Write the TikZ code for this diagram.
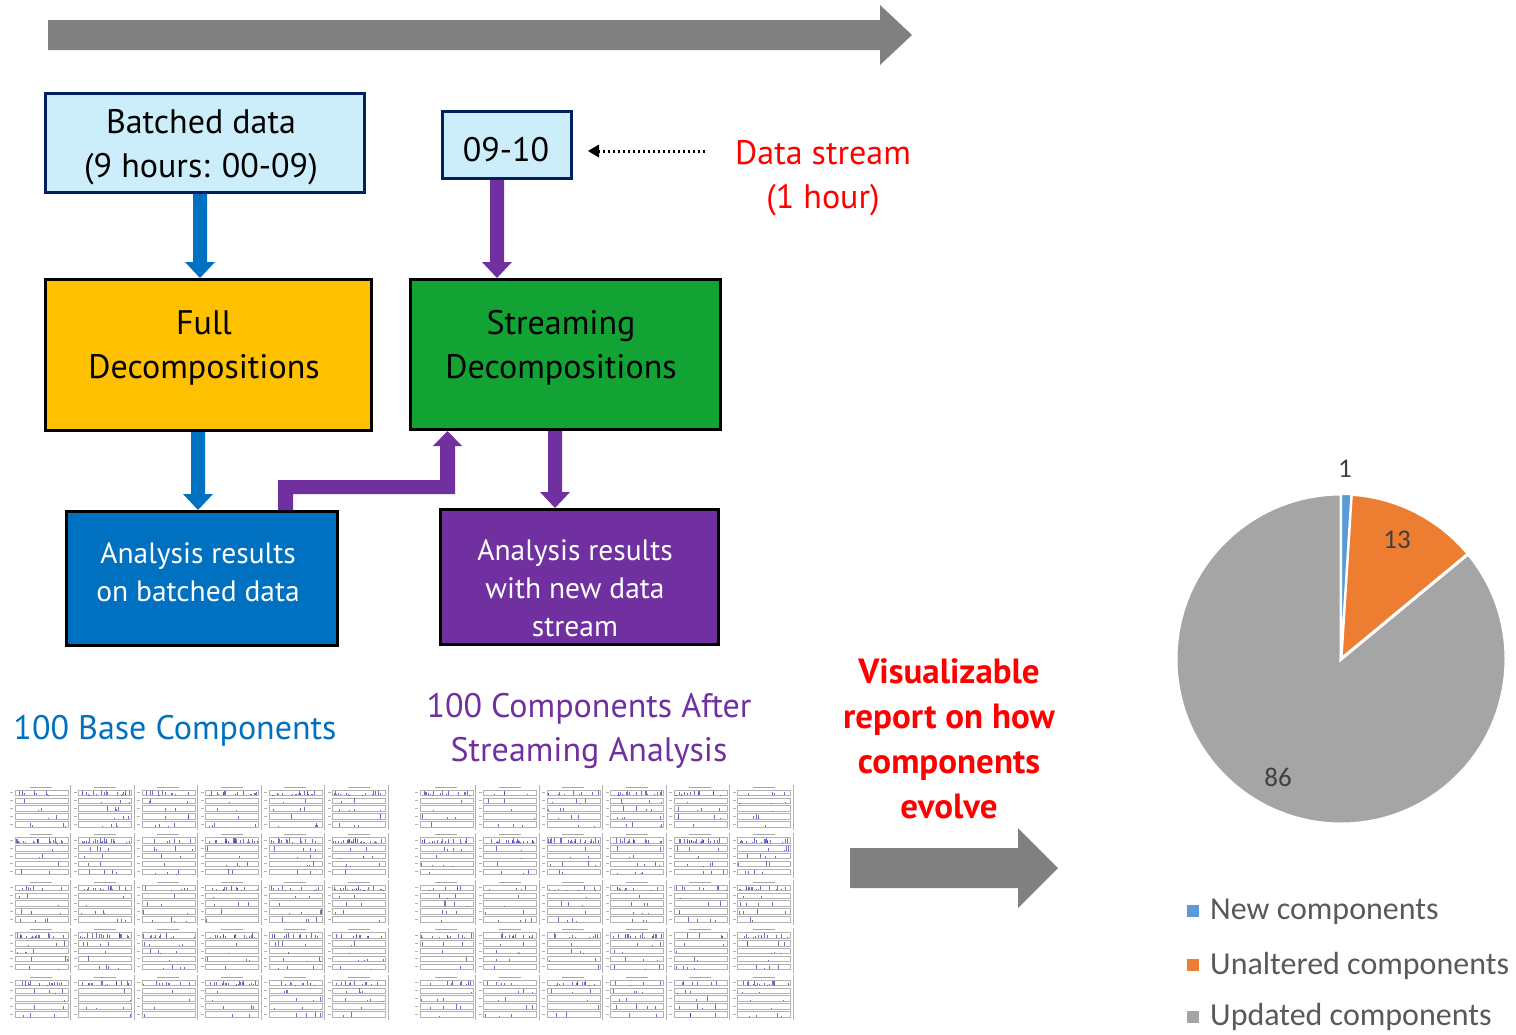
\documentclass[tikz,border=0pt]{standalone}
\usepackage{fontspec}
\setmainfont{PT Sans}
\newfontfamily\calib{Carlito}
\usetikzlibrary{calc,arrows.meta}
\definecolor{arrgray}{RGB}{128,128,128}
\definecolor{boxcyan}{RGB}{204,238,250}
\definecolor{navyb}{RGB}{0,32,96}
\definecolor{goldb}{RGB}{255,192,0}
\definecolor{grnb}{RGB}{19,163,52}
\definecolor{bblue}{RGB}{0,112,192}
\definecolor{purp}{RGB}{112,48,160}
\definecolor{pieblue}{RGB}{91,155,213}
\definecolor{pieorange}{RGB}{237,125,49}
\definecolor{piegray}{RGB}{165,165,165}
\definecolor{labgray}{RGB}{64,64,64}
\definecolor{leggray}{RGB}{89,89,89}
\definecolor{redt}{RGB}{255,0,0}
\newcommand{\blkdown}[4]{% colour, x, from node, to node
  \fill[#1] let \p1=(#3.south), \p2=(#4.north) in
    (#2-7,\y1) -- (#2+7,\y1) -- (#2+7,\y2+16pt) -- (#2+15,\y2+16pt) --
    (#2,\y2) -- (#2-15,\y2+16pt) -- (#2-7,\y2+16pt) -- cycle;}
\begin{document}
\begin{tikzpicture}[x=1pt,y=-1pt,
  boxst/.style={draw=black, line width=3pt, inner sep=0pt, align=center},
  bigtxt/.style={inner sep=0pt, align=center, font=\fontsize{34}{44}\selectfont},
  midtxt/.style={inner sep=0pt, align=center, font=\fontsize{29.5}{38}\selectfont},
  legtxt/.style={inner sep=0pt, anchor=west, text=leggray, font=\calib\fontsize{32}{36}\selectfont},
  pietxt/.style={inner sep=0pt, text=labgray, font=\calib\fontsize{27}{32}\selectfont}]
\useasboundingbox (0,0) rectangle (1516,1034);

% top timeline arrow
\fill[arrgray] (48,20) -- (880,20) -- (880,5) -- (912,35) -- (880,65) -- (880,50) -- (48,50) -- cycle;

% boxes
\node[boxst, draw=navyb, fill=boxcyan, minimum width=319pt, minimum height=99pt] (batch) at (205,143) {};
\node[bigtxt] (batchtxt) at (201,147.5) {Batched data\\(9 hours: 00-09)};
\node[boxst, draw=navyb, fill=boxcyan, minimum width=129pt, minimum height=67pt] (b0910) at (507,145) {};
\node[bigtxt] (b0910txt) at (506,149.5) {09-10};
\node[boxst, fill=goldb, minimum width=326pt, minimum height=151pt] (full) at (208.5,355) {};
\node[bigtxt] (fulltxt) at (204,347.5) {Full\\Decompositions};
\node[boxst, fill=grnb, minimum width=310pt, minimum height=150pt] (stream) at (565.5,354.5) {};
\node[bigtxt] (streamtxt) at (561,347.5) {Streaming\\Decompositions};
\node[boxst, fill=bblue, minimum width=271pt, minimum height=134pt] (anab) at (202,578.5) {};
\node[midtxt, text=white] (anabtxt) at (198,572) {Analysis results\\on batched data};
\node[boxst, fill=purp, minimum width=278pt, minimum height=135pt] (anas) at (579.5,577) {};
\node[midtxt, text=white] (anastxt) at (575,588) {Analysis results\\with new data\\stream};

% data stream label and dotted arrow
\node[bigtxt, text=redt] (ds) at (823,178) {Data stream\\(1 hour)};
\coordinate (dsstart) at (705,151);
\draw[line width=3pt, dash pattern=on 2.5pt off 2.5pt, -{Triangle[length=11pt,width=13pt,line width=0pt]}]
  (dsstart) -- ([xshift=15pt,yshift=-6pt]b0910.east);

% block arrows
\blkdown{bblue}{200}{batch}{full}
\blkdown{purp}{497}{b0910}{stream}
\blkdown{bblue}{198}{full}{anab}
\blkdown{purp}{555}{stream}{anas}
\fill[purp] let \p1=(anab.north), \p2=(stream.south) in
  (278,\y1) -- (278,-480pt) -- (440,-480pt) -- (440,\y2-15pt) -- (433,\y2-15pt) --
  (447.5,\y2) -- (462,\y2-15pt) -- (455,\y2-15pt) -- (455,-494pt) -- (293,-494pt) -- (293,\y1) -- cycle;

% captions
\node[bigtxt, text=bblue] (basecap) at (175,730.5) {100 Base Components};
\node[bigtxt, text=purp] (aftercap) at (589,730.5) {100 Components After\\Streaming Analysis};
\node[bigtxt, text=redt, font=\bfseries\fontsize{35}{45}\selectfont] (vis) at (949,739) {Visualizable\\report on how\\components\\evolve};

% bottom gray arrow
\fill[arrgray] (850,848) -- (1018,848) -- (1018,828) -- (1058,868) -- (1018,908) -- (1018,888) -- (850,888) -- cycle;

% thumbnail grids
\pgfmathsetseed{7}
\foreach \gx in {8,413} {
 \foreach \c in {0,...,5} {
  \foreach \r in {0,...,4} {
   \pgfmathsetmacro\cx{\gx+\c*63.5}
   \pgfmathsetmacro\cy{785+\r*47.5}
   \draw[black!30, line width=0.9pt] (\cx+62.5,\cy) -- (\cx+62.5,\cy+45);
   \draw[black!35, line width=0.8pt] (\cx+22,\cy+2) -- (\cx+44,\cy+2);
   \foreach \k in {0,...,4} {
     \pgfmathsetmacro\sy{\cy+5+\k*7.8}
     \draw[black!30, line width=0.4pt] (\cx+7,\sy) rectangle (\cx+60,\sy+5.5);
     \draw[black!30, line width=0.6pt] (\cx+2,\sy+2.7) -- (\cx+5,\sy+2.7);
     \pgfmathrandominteger\nsp{1}{4}
     \ifnum\k=0 \pgfmathrandominteger\nsp{4}{24}\fi
     \foreach \s in {1,...,\nsp} {
       \pgfmathsetmacro\px{\cx+8+rnd*51}
       \pgfmathsetmacro\ph{\sy+0.5+rnd*4.5}
       \draw[blue!60!black!80, opacity=0.7, line width=0.6pt] (\px,\sy+5.3) -- (\px,\ph);
     }
   }
  }
 }
}

% pie chart
\begin{scope}[shift={(1341,659)}, x=1pt, y=1pt]
  \coordinate (pc) at (0,0);
  \fill[piegray, draw=white, line width=3pt] (pc) -- (39.6:165) arc[start angle=39.6, end angle=-270, radius=165] -- cycle;
  \fill[pieorange, draw=white, line width=3pt] (pc) -- (86.4:165) arc[start angle=86.4, end angle=39.6, radius=165] -- cycle;
  \fill[pieblue, draw=white, line width=2pt] (pc) -- (90:165) arc[start angle=90, end angle=86.4, radius=165] -- cycle;
\end{scope}
\node[pietxt] (l1) at (1345,469) {1};
\node[pietxt] (l13) at (1397,540) {13};
\node[pietxt] (l86) at (1278,777) {86};

% legend
\fill[pieblue] (1187,905) rectangle (1199,917);
\node[legtxt] (leg1) at (1210,912) {New components};
\fill[pieorange] (1187,959) rectangle (1199,971);
\node[legtxt] (leg2) at (1210,966) {Unaltered components};
\fill[piegray] (1187,1011) rectangle (1199,1023);
\node[legtxt] (leg3) at (1210,1017) {Updated components};
\end{tikzpicture}
\end{document}
